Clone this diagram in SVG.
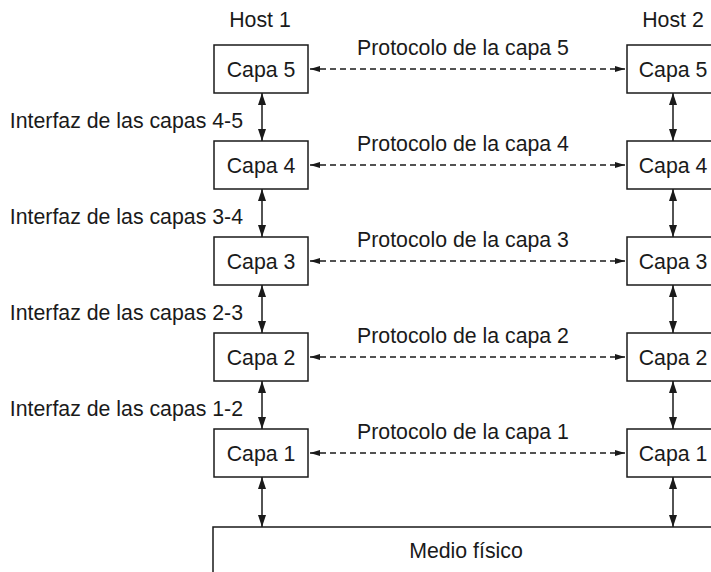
<svg xmlns="http://www.w3.org/2000/svg" width="711" height="572" viewBox="0 0 711 572">
<defs>
<style>
text{font-family:"Liberation Sans",Arial,sans-serif;font-size:21.3px;fill:#1a1a1a}
.box{fill:#fff;stroke:#1a1a1a;stroke-width:1.5}
.v{stroke:#1a1a1a;stroke-width:1.5;fill:none;marker-start:url(#ah);marker-end:url(#ah)}
.d{stroke:#1a1a1a;stroke-width:1.3;fill:none;stroke-dasharray:6 4;marker-start:url(#ahs);marker-end:url(#ahs)}
.c{text-anchor:middle}
.e{text-anchor:end}
</style>
<marker id="ah" viewBox="0 0 12 8" refX="12" refY="4" markerWidth="12" markerHeight="8" markerUnits="userSpaceOnUse" orient="auto-start-reverse">
<path d="M0,0 L12,4 L0,8 Z" fill="#1a1a1a"/>
</marker>
<marker id="ahs" viewBox="0 0 10 6" refX="10" refY="3" markerWidth="10" markerHeight="6" markerUnits="userSpaceOnUse" orient="auto-start-reverse">
<path d="M0,0 L10,3 L0,6 Z" fill="#1a1a1a"/>
</marker>
</defs>
<rect width="711" height="572" fill="#fff"/>
<text class="c" x="260" y="27">Host 1</text>
<text class="c" x="673" y="27">Host 2</text>
<g id="connectors">
<line class="v" x1="262" y1="93" x2="262" y2="141"/>
<line class="v" x1="262" y1="189" x2="262" y2="237"/>
<line class="v" x1="262" y1="285" x2="262" y2="333"/>
<line class="v" x1="262" y1="381" x2="262" y2="429"/>
<line class="v" x1="262" y1="477" x2="262" y2="527"/>
<line class="v" x1="673" y1="93" x2="673" y2="141"/>
<line class="v" x1="673" y1="189" x2="673" y2="237"/>
<line class="v" x1="673" y1="285" x2="673" y2="333"/>
<line class="v" x1="673" y1="381" x2="673" y2="429"/>
<line class="v" x1="673" y1="477" x2="673" y2="527"/>
<line class="d" x1="310" y1="69" x2="625" y2="69"/>
<line class="d" x1="310" y1="165" x2="625" y2="165"/>
<line class="d" x1="310" y1="261" x2="625" y2="261"/>
<line class="d" x1="310" y1="357" x2="625" y2="357"/>
<line class="d" x1="310" y1="453" x2="625" y2="453"/>
<text class="c" x="463" y="55">Protocolo de la capa 5</text>
<text class="c" x="463" y="151">Protocolo de la capa 4</text>
<text class="c" x="463" y="247">Protocolo de la capa 3</text>
<text class="c" x="463" y="343">Protocolo de la capa 2</text>
<text class="c" x="463" y="439">Protocolo de la capa 1</text>
<text class="e" x="243" y="128">Interfaz de las capas 4-5</text>
<text class="e" x="243" y="224">Interfaz de las capas 3-4</text>
<text class="e" x="243" y="320">Interfaz de las capas 2-3</text>
<text class="e" x="243" y="416">Interfaz de las capas 1-2</text>
</g>
<g id="h1-capa5"><rect class="box" x="214" y="45" width="94" height="48"/><text class="c" x="261" y="77">Capa 5</text></g>
<g id="h1-capa4"><rect class="box" x="214" y="141" width="94" height="48"/><text class="c" x="261" y="173">Capa 4</text></g>
<g id="h1-capa3"><rect class="box" x="214" y="237" width="94" height="48"/><text class="c" x="261" y="269">Capa 3</text></g>
<g id="h1-capa2"><rect class="box" x="214" y="333" width="94" height="48"/><text class="c" x="261" y="365">Capa 2</text></g>
<g id="h1-capa1"><rect class="box" x="214" y="429" width="94" height="48"/><text class="c" x="261" y="461">Capa 1</text></g>
<g id="h2-capa5"><rect class="box" x="627" y="45" width="94" height="48"/><text class="c" x="673" y="77">Capa 5</text></g>
<g id="h2-capa4"><rect class="box" x="627" y="141" width="94" height="48"/><text class="c" x="673" y="173">Capa 4</text></g>
<g id="h2-capa3"><rect class="box" x="627" y="237" width="94" height="48"/><text class="c" x="673" y="269">Capa 3</text></g>
<g id="h2-capa2"><rect class="box" x="627" y="333" width="94" height="48"/><text class="c" x="673" y="365">Capa 2</text></g>
<g id="h2-capa1"><rect class="box" x="627" y="429" width="94" height="48"/><text class="c" x="673" y="461">Capa 1</text></g>
<g id="medio"><rect class="box" x="213" y="527" width="600" height="100"/><text class="c" x="466" y="558">Medio físico</text></g>
</svg>
